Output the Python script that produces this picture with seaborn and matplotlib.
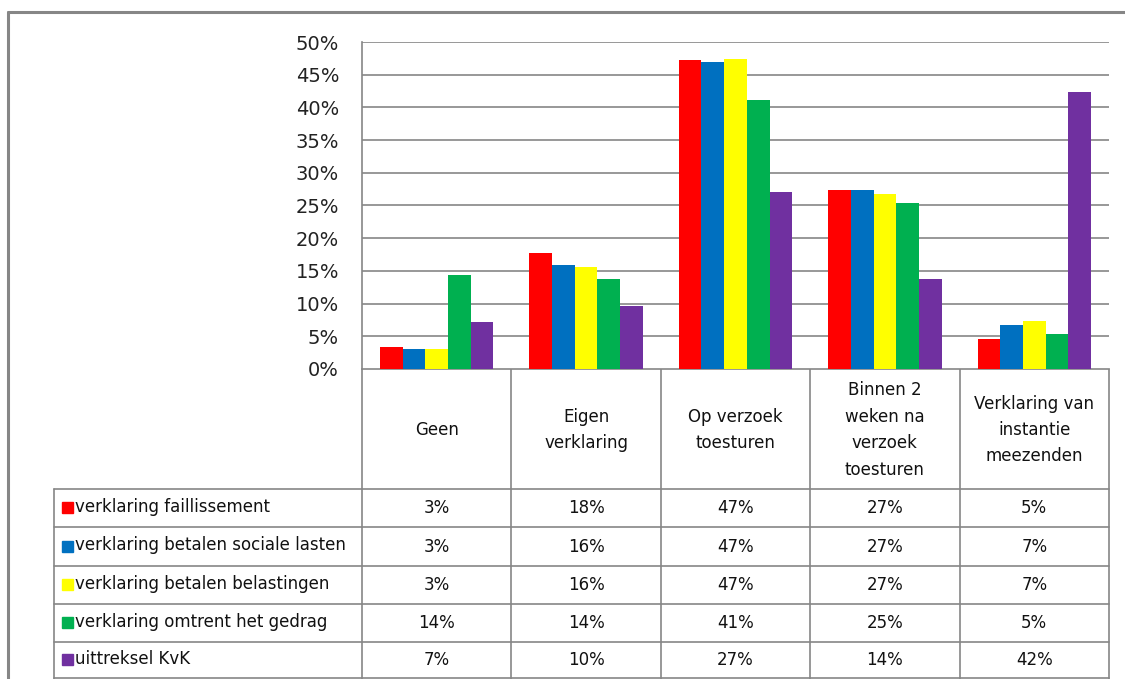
import pandas as pd
import matplotlib.pyplot as plt
import seaborn as sns
import numpy as np

# data (percent)
categories = ["Geen", "Eigen verklaring", "Op verzoek toesturen",
              "Binnen 2 weken na verzoek toesturen", "Verklaring van instantie meezenden"]
header_labels = ["Geen", "Eigen\nverklaring", "Op verzoek\ntoesturen",
                 "Binnen 2\nweken na\nverzoek\ntoesturen", "Verklaring van\ninstantie\nmeezenden"]
series = ["verklaring faillissement", "verklaring betalen sociale lasten",
          "verklaring betalen belastingen", "verklaring omtrent het gedrag", "uittreksel KvK"]
faillissement = [3.4, 17.8, 47.2, 27.3, 4.6]
sociale_lasten = [3.1, 15.9, 46.9, 27.3, 6.7]
belastingen = [3.1, 15.6, 47.4, 26.8, 7.3]
gedrag = [14.4, 13.8, 41.2, 25.4, 5.4]
kvk = [7.2, 9.6, 27.1, 13.8, 42.4]
colors = ["#FF0000", "#0070C0", "#FFFF00", "#00B050", "#7030A0"]
yticks = [0, 5, 10, 15, 20, 25, 30, 35, 40, 45, 50]

values = [faillissement, sociale_lasten, belastingen, gedrag, kvk]
rows = []
for s, vals in zip(series, values):
    for c, v in zip(categories, vals):
        rows.append({"Serie": s, "Categorie": c, "Waarde": v})
df = pd.DataFrame(rows)

W, H = 1125, 679
sns.set_style("white")
plt.rcParams['font.family'] = ['DejaVu Sans']
fig = plt.figure(figsize=(W / 100, H / 100), dpi=100)

# pixel layout
x0, x1 = 362, 1109
y_top, y_axis = 42, 369
ax = fig.add_axes([x0 / W, 1 - y_axis / H, (x1 - x0) / W, (y_axis - y_top) / H])

sns.barplot(data=df, x="Categorie", y="Waarde", hue="Serie", order=categories,
            hue_order=series, palette=colors, saturation=1, width=0.76,
            linewidth=0, legend=False, ax=ax)

ax.set_ylim(0, 50)
ax.set_xlim(-0.5, len(categories) - 0.5)
ax.set_yticks(yticks)
ax.set_yticklabels([f"{t}%" for t in yticks], fontsize=14, color="#222222")
ax.set_xticks([])
ax.set_xlabel("")
ax.set_ylabel("")
ax.tick_params(axis="y", length=0, pad=16.5)
ax.yaxis.grid(True, color="#868686", linewidth=1.2)
ax.set_axisbelow(True)
for side in ["top", "right", "bottom"]:
    ax.spines[side].set_visible(False)
ax.spines["left"].set_color("#868686")
ax.spines["left"].set_linewidth(1.2)

# overlay in pixel coordinates for frame and data table
ov = fig.add_axes([0, 0, 1, 1], zorder=-1)
ov.set_xlim(0, W)
ov.set_ylim(H, 0)
ov.axis("off")
lc = "#868686"

# outer frame
ov.plot([8, W], [12, 12], color=lc, lw=2.2)
ov.plot([8, 8], [12, H], color=lc, lw=2.2)

col_w = (x1 - x0) / len(categories)
col_x = [x0 + i * col_w for i in range(len(categories) + 1)]
head_bot = 489
row_y = [489, 527, 566, 604, 642, 678]
lab_x = 54

# header cells
for cx in col_x:
    ov.plot([cx, cx], [y_axis, H], color=lc, lw=1.2)
ov.plot([x0, x1], [y_axis, y_axis], color=lc, lw=1.2)
for ry in row_y:
    ov.plot([lab_x, x1], [ry, ry], color=lc, lw=1.2)
ov.plot([lab_x, lab_x], [head_bot, H], color=lc, lw=1.2)

for i, lab in enumerate(header_labels):
    ov.text(col_x[i] + col_w / 2, (y_axis + head_bot) / 2 + 1, lab, ha="center",
            va="center", fontsize=12, linespacing=1.6, color="#111111")

# data rows
for r, (s, vals, col) in enumerate(zip(series, values, colors)):
    cy = (row_y[r] + row_y[r + 1]) / 2
    ov.add_patch(plt.Rectangle((62, cy - 6), 11, 11, color=col))
    ov.text(75, cy - 1, s, ha="left", va="center", fontsize=12, color="#111111")
    for i, v in enumerate(vals):
        ov.text(col_x[i] + col_w / 2, cy, f"{v:.0f}%", ha="center", va="center",
                fontsize=12, color="#111111")

fig.savefig("out.png", dpi=100)
